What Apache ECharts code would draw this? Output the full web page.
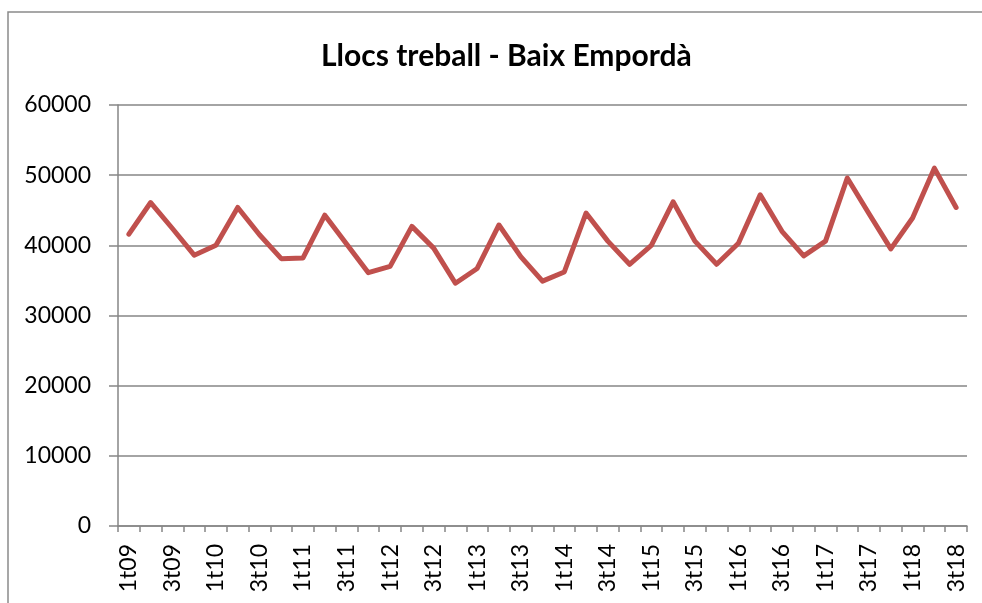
<!DOCTYPE html>
<html>
<head>
<meta charset="utf-8">
<script src="https://cdn.jsdelivr.net/npm/echarts@6/dist/echarts.min.js"></script>
<style>
  html, body { margin: 0; padding: 0; background: #fff; }
  #chart { width: 982px; height: 603px; }
</style>
</head>
<body>
<div id="chart"></div>
<script>
// quarters 1t09 .. 3t18
const quarters = [];
for (let y = 9; y <= 18; y++) {
  for (let q = 1; q <= 4; q++) {
    if (y === 18 && q > 3) break;
    quarters.push(q + 't' + String(y).padStart(2, '0'));
  }
}

const llocsTreball = [
  41600, 46100, 42400, 38600, 40000, 45400, 41500, 38100, 38200, 44300,
  40200, 36100, 37000, 42700, 39600, 34600, 36700, 42900, 38400, 34900,
  36200, 44600, 40600, 37300, 40000, 46200, 40600, 37300, 40300, 47200,
  42000, 38500, 40600, 49600, 44500, 39500, 43900, 51000, 45400
];

const yTicks = { min: 0, max: 60000, interval: 10000 };

const chart = echarts.init(document.getElementById('chart'));
const font = 'Lato, "Open Sans", sans-serif';

chart.setOption({
  animation: false,
  textStyle: { fontFamily: font },
  title: {
    text: 'Llocs treball - Baix Empordà',
    left: 316,
    top: 36,
    textStyle: { fontSize: 30, fontWeight: 'bold', color: '#000', fontFamily: font }
  },
  graphic: [{
    type: 'rect',
    shape: { x: 8, y: 12, width: 1100, height: 800 },
    style: { fill: 'none', stroke: '#8a8a8a', lineWidth: 1.5 },
    silent: true
  }],
  grid: { left: 118, right: 15, top: 105, bottom: 77 },
  xAxis: {
    type: 'category',
    data: quarters,
    boundaryGap: true,
    axisLine: { lineStyle: { color: '#868686', width: 1.5 } },
    axisTick: { show: true, interval: 0, length: 6, lineStyle: { color: '#868686', width: 1.5 } },
    axisLabel: {
      interval: 1,
      rotate: 90,
      margin: 18,
      fontSize: 23,
      color: '#000',
      fontFamily: font
    }
  },
  yAxis: {
    type: 'value',
    min: yTicks.min,
    max: yTicks.max,
    interval: yTicks.interval,
    axisLine: { show: true, lineStyle: { color: '#868686', width: 1.5 } },
    axisTick: { show: true, length: 9, lineStyle: { color: '#868686', width: 1.5 } },
    splitLine: { lineStyle: { color: '#868686', width: 1.5 } },
    axisLabel: {
      margin: 27,
      fontSize: 23,
      color: '#000',
      fontFamily: font,
      formatter: (v) => String(v)
    }
  },
  series: [{
    type: 'line',
    data: llocsTreball,
    showSymbol: false,
    symbol: 'none',
    lineStyle: { color: '#C0504D', width: 5, cap: 'round', join: 'round' },
    itemStyle: { color: '#C0504D' }
  }]
});
</script>
</body>
</html>
